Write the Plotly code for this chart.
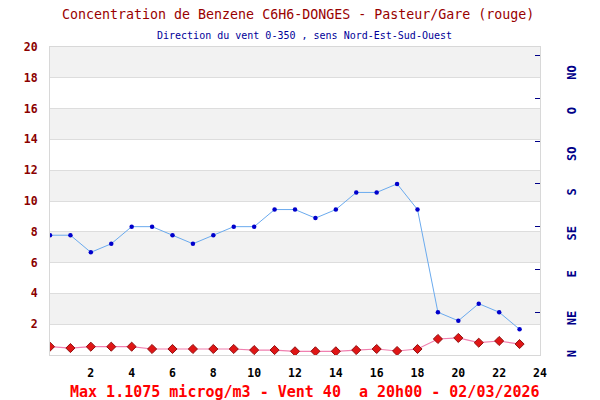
import plotly.graph_objects as go

hours = list(range(24))
benzene = [0.54, 0.45, 0.54, 0.54, 0.54, 0.39, 0.39, 0.39, 0.39, 0.39, 0.32, 0.32,
           0.24, 0.24, 0.24, 0.32, 0.39, 0.26, 0.39, 1.04, 1.1075, 0.80, 0.91, 0.71]
wind_dir = [140, 140, 120, 130, 150, 150, 140, 130, 140, 150, 150, 170,
            170, 160, 170, 190, 190, 200, 170, 50, 40, 60, 50, 30]
y_ticks = [2, 4, 6, 8, 10, 12, 14, 16, 18, 20]
x_ticks = [2, 4, 6, 8, 10, 12, 14, 16, 18, 20, 22, 24]
dir_ticks = [50, 100, 150, 200, 250, 300, 350]
dir_labels = ["N", "NE", "E", "SE", "S", "SO", "O", "NO"]
dir_label_pos = [1, 43, 94, 142, 190, 235, 285, 330]
bands = [(2, 4), (6, 8), (10, 12), (14, 16), (18, 20)]

title = "Concentration de Benzene C6H6-DONGES - Pasteur/Gare (rouge)"
subtitle = "Direction du vent 0-350 , sens Nord-Est-Sud-Ouest"
footer = "Max 1.1075 microg/m3 - Vent 40&nbsp;&nbsp;a 20h00 - 02/03/2026"

MONO = "DejaVu Sans Mono, Liberation Mono, monospace"

# plot area in pixels
L, R, T, B = 50, 540, 47, 355


def px_x(p):
    return (p - L) / (R - L)


def px_y(p):
    return (B - p) / (B - T)


fig = go.Figure()
fig.add_trace(go.Scatter(
    x=hours, y=wind_dir, yaxis="y2", mode="lines+markers",
    line=dict(color="#6AAAEE", width=1),
    marker=dict(color="#0000CC", size=4.5, symbol="circle"),
    showlegend=False, hoverinfo="skip"))
fig.add_trace(go.Scatter(
    x=hours, y=benzene, mode="lines+markers",
    line=dict(color="#F080B0", width=1.2),
    marker=dict(color="#E01515", size=7, symbol="diamond",
                line=dict(color="#901010", width=1)),
    showlegend=False, hoverinfo="skip"))

shapes = []
for lo, hi in bands:
    shapes.append(dict(type="rect", xref="paper", yref="y", x0=0, x1=1, y0=lo, y1=hi,
                       fillcolor="#F2F2F2", line=dict(width=0), layer="below"))

annotations = [
    dict(text=title, xref="paper", yref="paper", x=px_x(298), y=px_y(15),
         xanchor="center", yanchor="middle", showarrow=False,
         font=dict(family=MONO, size=13.3, color="#990000")),
    dict(text=subtitle, xref="paper", yref="paper", x=px_x(304), y=px_y(35),
         xanchor="center", yanchor="middle", showarrow=False,
         font=dict(family=MONO, size=10, color="#000099")),
    dict(text="<b>" + footer + "</b>", xref="paper", yref="paper", x=px_x(305),
         y=px_y(392), xanchor="center", yanchor="middle", showarrow=False,
         font=dict(family=MONO, size=15, color="#FF0000")),
]
for lab, pos in zip(dir_labels, dir_label_pos):
    annotations.append(dict(text="<b>" + lab + "</b>", xref="paper", yref="y2",
                            x=px_x(572), y=pos, xanchor="center", yanchor="middle",
                            textangle=-90, showarrow=False,
                            font=dict(family=MONO, size=12, color="#000088")))

fig.update_layout(
    width=600, height=400,
    margin=dict(l=L, r=600 - R, t=T, b=400 - B),
    paper_bgcolor="white", plot_bgcolor="white",
    shapes=shapes, annotations=annotations,
    xaxis=dict(range=[0, 24], tickvals=x_ticks, ticktext=[str(v) for v in x_ticks],
               showgrid=False, zeroline=False, showline=True, linecolor="#D8D8D8",
               mirror=True, ticks="", ticklabelstandoff=7,
               tickfont=dict(family=MONO, size=11.5, color="black", weight="bold")),
    yaxis=dict(range=[0, 20], tickvals=y_ticks, ticktext=[str(v) for v in y_ticks],
               showgrid=True, gridcolor="#DDDDDD", gridwidth=1, zeroline=False,
               showline=True, linecolor="#D8D8D8", mirror=True, ticks="",
               ticklabelstandoff=9,
               tickfont=dict(family=MONO, size=11.5, color="#8B0000", weight="bold")),
    yaxis2=dict(range=[0, 360], overlaying="y", side="right", tickvals=dir_ticks,
                showticklabels=False, showgrid=False, zeroline=False, showline=False,
                ticks="inside", ticklen=5, tickwidth=1, tickcolor="#000088"),
)

fig.write_html("out.html", config={"displayModeBar": False},
               post_script="document.body.style.margin='0';"
                           "document.body.style.overflow='hidden';")
